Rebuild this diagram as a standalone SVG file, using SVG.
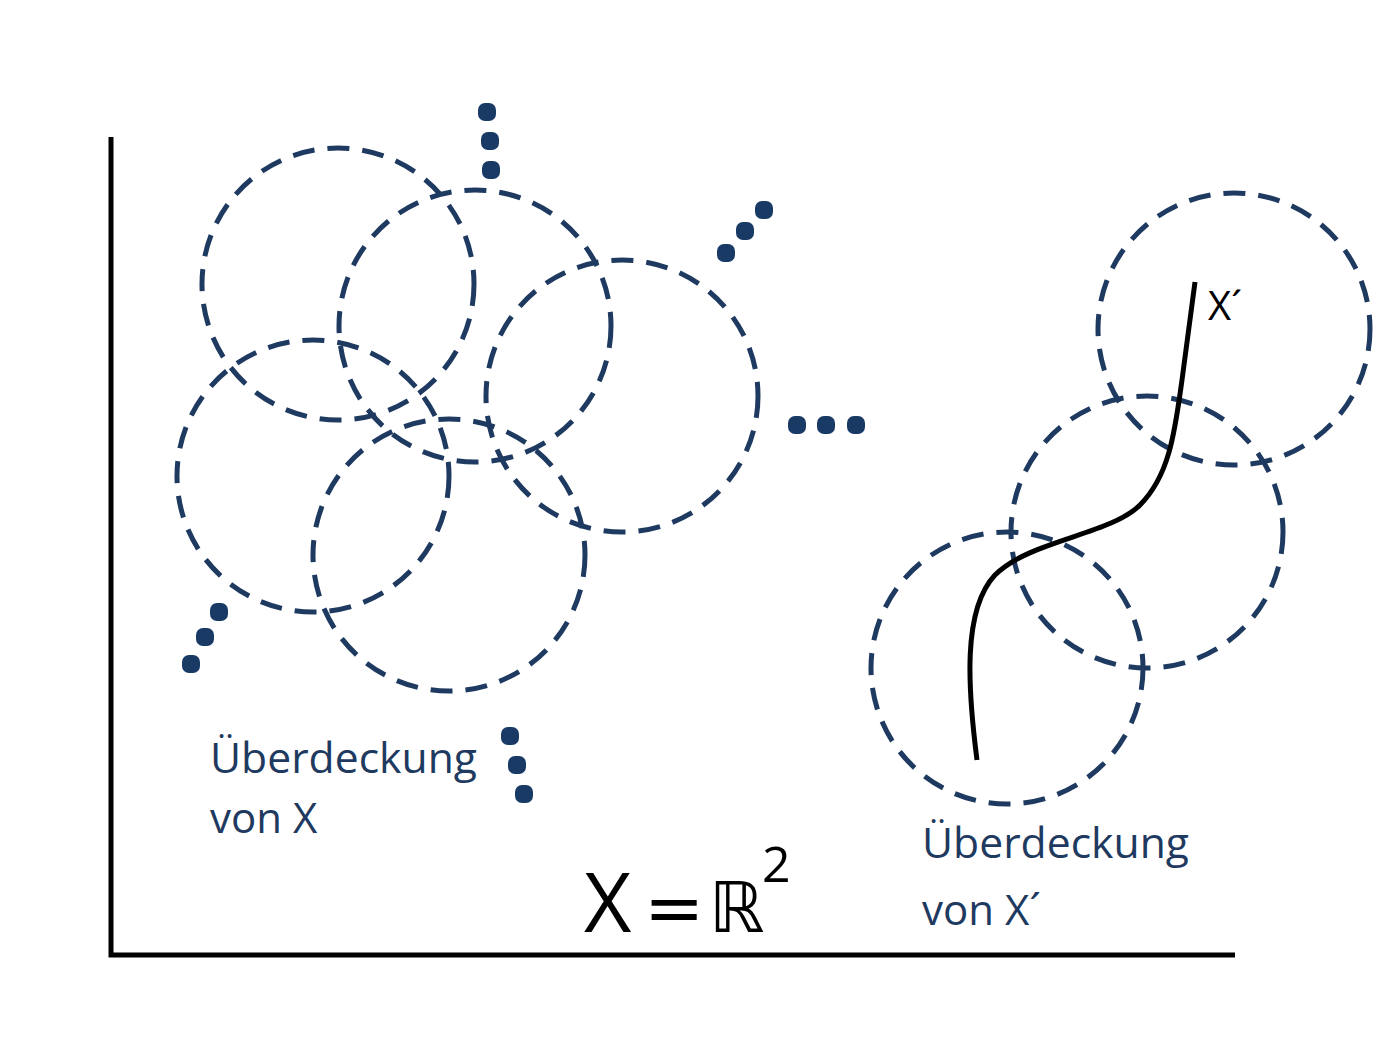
<svg xmlns="http://www.w3.org/2000/svg" width="1374" height="1044" viewBox="0 0 1374 1044">
<style>
.c{fill:none;stroke:#1f3a60;stroke-width:5;stroke-dasharray:22 13}
.d{fill:#1a3a66}
.t{font-family:"Open Sans","Liberation Sans",sans-serif;fill:#1f3a60;font-size:42px}
.ax{stroke:#000;stroke-width:5;fill:none}
</style>
<defs>
<rect id="dot" x="-9" y="-9" width="18" height="18" rx="7" class="d"/>
</defs>
<rect width="1374" height="1044" fill="#fff"/>
<g id="axes">
<path class="ax" d="M111 137 V955 H1235"/>
</g>
<g id="covers-left">
<circle id="c1" class="c" cx="338" cy="284" r="136"/>
<circle id="c2" class="c" cx="475" cy="326" r="136"/>
<circle id="c3" class="c" cx="622" cy="396" r="136"/>
<circle id="c4" class="c" cx="313" cy="476" r="136"/>
<circle id="c5" class="c" cx="449" cy="555" r="136"/>
</g>
<g id="covers-right">
<circle id="c6" class="c" cx="1234" cy="329" r="136"/>
<circle id="c7" class="c" cx="1147" cy="532" r="136"/>
<circle id="c8" class="c" cx="1007" cy="668" r="136"/>
</g>
<g id="dots">
<use href="#dot" x="487" y="112"/><use href="#dot" x="490" y="141"/><use href="#dot" x="491" y="170"/>
<use href="#dot" x="764" y="210"/><use href="#dot" x="745" y="231"/><use href="#dot" x="726" y="253"/>
<use href="#dot" x="797" y="425"/><use href="#dot" x="826" y="425"/><use href="#dot" x="856" y="425"/>
<use href="#dot" x="219" y="612"/><use href="#dot" x="205" y="637"/><use href="#dot" x="191" y="664"/>
<use href="#dot" x="510" y="736"/><use href="#dot" x="517" y="765"/><use href="#dot" x="524" y="794"/>
</g>
<g id="curve">
<path class="ax" stroke-width="6" d="M977 760 C968 690 962 610 995 575 C1030 540 1110 535 1140 505 C1170 475 1175 430 1182 380 L1195 282"/>
<text x="1208" y="320" font-family="Open Sans,Liberation Sans,sans-serif" font-size="40" fill="#000">X´</text>
</g>
<g id="label-left">
<text class="t" x="210" y="773" textLength="267" lengthAdjust="spacingAndGlyphs">Überdeckung</text>
<text class="t" x="210" y="833">von X</text>
</g>
<g id="label-right">
<text class="t" x="922" y="858" textLength="267" lengthAdjust="spacingAndGlyphs">Überdeckung</text>
<text class="t" x="922" y="925">von X´</text>
</g>
<g id="formula" font-family="Open Sans,DejaVu Sans,sans-serif" fill="#000">
<text x="584" y="932" font-size="82">X</text>
<text x="644" y="932" font-size="72" font-family="DejaVu Sans,sans-serif">=</text>
<text x="709" y="932" font-size="70" font-family="DejaVu Sans,sans-serif">ℝ</text>
<text x="762" y="882" font-size="50">2</text>
</g>
</svg>
